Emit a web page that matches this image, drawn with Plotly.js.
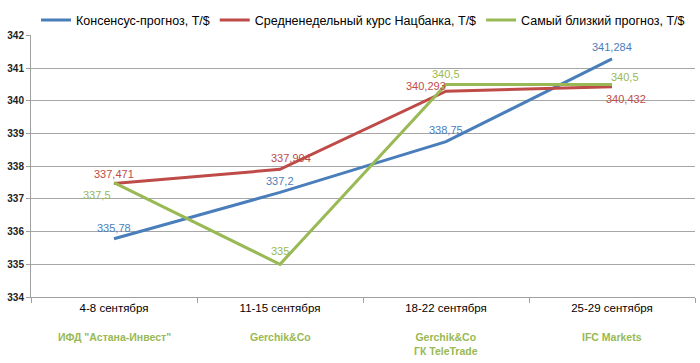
<!DOCTYPE html>
<html><head><meta charset="utf-8">
<script src="https://cdn.plot.ly/plotly-3.0.1.min.js"></script>
<style>html,body{margin:0;padding:0;background:#fff}</style>
</head><body>
<div id="chart" style="width:700px;height:363px"></div>
<script>
const categories = ["4-8 сентября", "11-15 сентября", "18-22 сентября", "25-29 сентября"];
const companies = ["ИФД \"Астана-Инвест\"", "Gerchik&Co", "Gerchik&Co<br>ГК TeleTrade", "IFC Markets"];
const consensus = [335.78, 337.2, 338.75, 341.284];
const nbkRate = [337.471, 337.904, 340.293, 340.432];
const closest = [337.5, 335, 340.5, 340.5];
const consensusLabels = ["335,78", "337,2", "338,75", "341,284"];
const nbkLabels = ["337,471", "337,904", "340,293", "340,432"];
const closestLabels = ["337,5", "335", "340,5", "340,5"];
const seriesNames = ["Консенсус-прогноз, T/$", "Средненедельный курс Нацбанка, T/$", "Самый близкий прогноз, T/$"];
const yTicks = [334, 335, 336, 337, 338, 339, 340, 341, 342];

const BLUE = "#4A7EBB", RED = "#BE4B48", GREEN = "#98B954";
const FONT = "'Liberation Sans Narrow', 'Liberation Sans', Arial, sans-serif";

const traces = [
  {x: categories, y: consensus, name: seriesNames[0], mode: "lines", line: {color: BLUE, width: 3}},
  {x: categories, y: nbkRate, name: seriesNames[1], mode: "lines", line: {color: RED, width: 3}},
  {x: categories, y: closest, name: seriesNames[2], mode: "lines", line: {color: GREEN, width: 3}}
];

// label offsets (px) per series per point
const offsets = {
  blue: [[0, 11], [0, 11], [0, 12], [0, 12]],
  red: [[0, 10], [11, 11], [-20, 5], [14, -12]],
  green: [[-17, -12], [0, 13], [0, 10], [13, 7]]
};
const annotations = [];
function addLabels(vals, labels, color, offs) {
  vals.forEach((v, i) => {
    annotations.push({x: categories[i], y: v, xref: "x", yref: "y", text: labels[i], showarrow: false,
      xshift: offs[i][0], yshift: offs[i][1], font: {family: FONT, size: 11, color: color}});
  });
}
addLabels(consensus, consensusLabels, BLUE, offsets.blue);
addLabels(nbkRate, nbkLabels, RED, offsets.red);
addLabels(closest, closestLabels, GREEN, offsets.green);
companies.forEach((c, i) => {
  annotations.push({x: categories[i], y: 0, xref: "x", yref: "paper", yanchor: "top", yshift: -32,
    text: "<b>" + c + "</b>", showarrow: false, font: {family: FONT, size: 10.5, color: GREEN}});
});

const layout = {
  width: 700, height: 363,
  margin: {l: 31, r: 5, t: 33, b: 66},
  paper_bgcolor: "#fff", plot_bgcolor: "#fff",
  showlegend: true,
  legend: {orientation: "h", x: 0.5, xanchor: "center", y: 1.0, yanchor: "bottom", yref: "container",
    font: {family: FONT, size: 12.5, color: "#000"}, itemwidth: 30, tracegroupgap: 0},
  xaxis: {type: "category", tickson: "boundaries", ticks: "outside", ticklen: 5, tickcolor: "#A0A0A0",
    showline: true, linecolor: "#A0A0A0", linewidth: 1, showgrid: false, zeroline: false,
    tickfont: {family: FONT, size: 11.5, color: "#000"}, range: [-0.5, 3.5]},
  yaxis: {range: [334, 342], tickvals: yTicks, ticktext: yTicks.map(v => "<b>" + v + "</b>"),
    ticks: "outside", ticklen: 4, tickcolor: "#A0A0A0", showline: true, linecolor: "#A0A0A0",
    showgrid: true, gridcolor: "#A6A6A6", gridwidth: 1, zeroline: false,
    tickfont: {family: FONT, size: 10, color: "#222"}},
  annotations: annotations
};
layout.legend.y = 0.985;
layout.legend.yanchor = "top";

Plotly.newPlot("chart", traces, layout, {displayModeBar: false, staticPlot: true});
</script>
</body></html>
